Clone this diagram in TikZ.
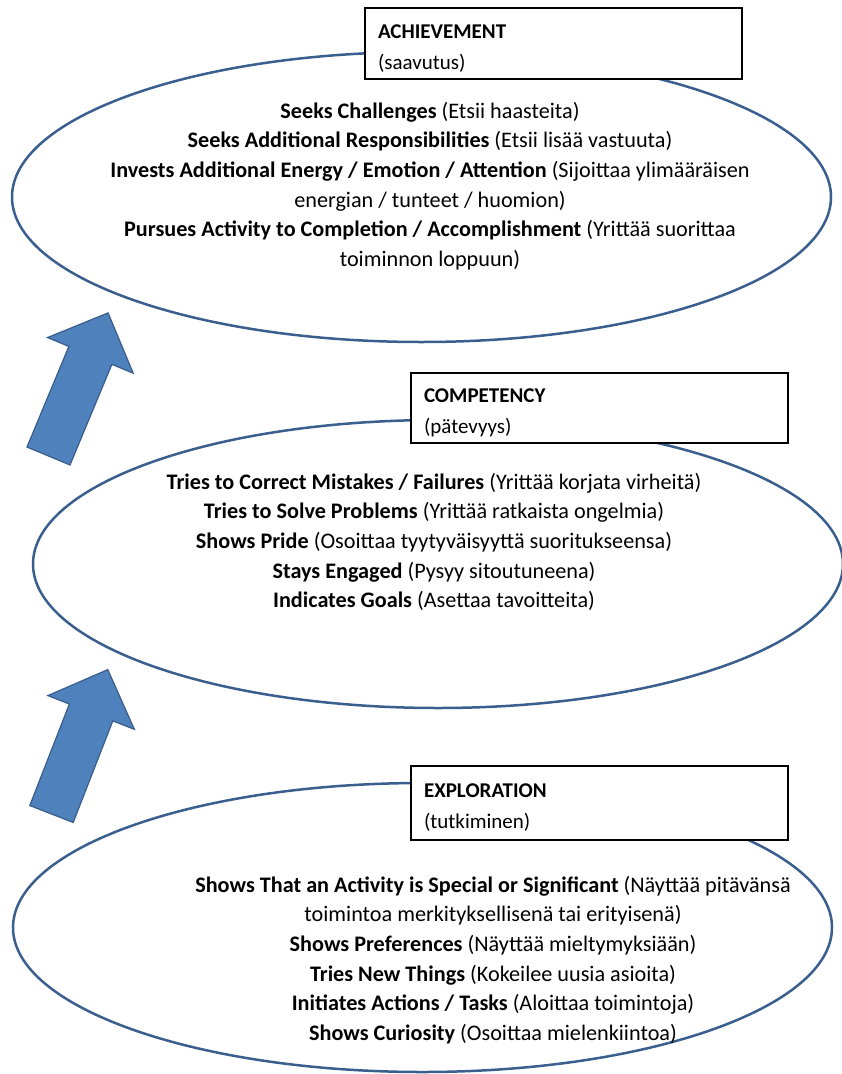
\documentclass[tikz,border=0pt]{standalone}
\usepackage{fontspec}
\setmainfont{Carlito}
\usetikzlibrary{shapes.geometric}
\definecolor{ringblue}{HTML}{3A5F8E}
\definecolor{arrowfill}{HTML}{4F81BD}
\definecolor{arrowline}{HTML}{385D8A}
\newcommand{\highstrut}{\rule{0pt}{23pt}}

\begin{document}
\begin{tikzpicture}[x=1pt,y=-1pt,font=\fontsize{22.2}{29.6}\selectfont]
    \tikzstyle{level}=[ellipse, draw=ringblue, line width=2.5pt, fill=white, inner sep=0pt]
    \tikzstyle{stage}=[draw, line width=1.5pt, fill=white, anchor=north west, outer sep=0pt,
        inner xsep=13pt, inner ysep=0pt, text width=351pt, align=left,
        font=\fontsize{21}{31}\selectfont]
    \tikzstyle{items}=[align=center, inner sep=0pt]
    \tikzstyle{uparrow}=[fill=arrowfill, draw=arrowline, line width=1.2pt, line join=miter]
    \useasboundingbox (0,0) rectangle (841,1074);

    % the three levels
    \node[level, minimum width=819pt, minimum height=290pt] (achievement) at (421.5,197) {};
    \node[level, minimum width=810pt, minimum height=288pt] (competency) at (438,564) {};
    \node[level, minimum width=819pt, minimum height=289pt] (exploration) at (422.5,927.5) {};

    % titles
    \node[stage, minimum height=71pt] (achbox) at (365,8) {\highstrut\textbf{ACHIEVEMENT}\\(saavutus)};
    \node[stage, minimum height=70pt] (compbox) at (411,373) {\highstrut\textbf{COMPETENCY}\\(pätevyys)};
    \node[stage, minimum height=74pt] (explbox) at (411,766) {\highstrut\textbf{EXPLORATION}\\(tutkiminen)};

    % behaviours
    \node[items] (achitems) at (430,186) {%
        \textbf{Seeks Challenges} (Etsii haasteita)\\
        \textbf{Seeks Additional Responsibilities} (Etsii lisää vastuuta)\\
        \textbf{Invests Additional Energy / Emotion / Attention} (Sijoittaa ylimääräisen\\
        energian / tunteet / huomion)\\
        \textbf{Pursues Activity to Completion / Accomplishment} (Yrittää suorittaa\\
        toiminnon loppuun)};
    \node[items] (compitems) at (434,542) {%
        \textbf{Tries to Correct Mistakes / Failures} (Yrittää korjata virheitä)\\
        \textbf{Tries to Solve Problems} (Yrittää ratkaista ongelmia)\\
        \textbf{Shows Pride} (Osoittaa tyytyväisyyttä suoritukseensa)\\
        \textbf{Stays Engaged} (Pysyy sitoutuneena)\\
        \textbf{Indicates Goals} (Asettaa tavoitteita)};
    \node[items] (explitems) at (493,960) {%
        \textbf{Shows That an Activity is Special or Significant} (Näyttää pitävänsä\\
        toimintoa merkityksellisenä tai erityisenä)\\
        \textbf{Shows Preferences} (Näyttää mieltymyksiään)\\
        \textbf{Tries New Things} (Kokeilee uusia asioita)\\
        \textbf{Initiates Actions / Tasks} (Aloittaa toimintoja)\\
        \textbf{Shows Curiosity} (Osoittaa mielenkiintoa)};

    % block arrows
    \draw[uparrow, shift={(48.5,456)}, rotate=67.4]
        (0,-23.3) -- (109,-23.3) -- (109,-46.4) -- (155,0) -- (109,46.4) -- (109,23.3) -- (0,23.3) -- cycle;
    \draw[uparrow, shift={(51.5,814)}, rotate=68.7]
        (0,-23.3) -- (109,-23.3) -- (109,-46.4) -- (155,0) -- (109,46.4) -- (109,23.3) -- (0,23.3) -- cycle;
\end{tikzpicture}
\end{document}
